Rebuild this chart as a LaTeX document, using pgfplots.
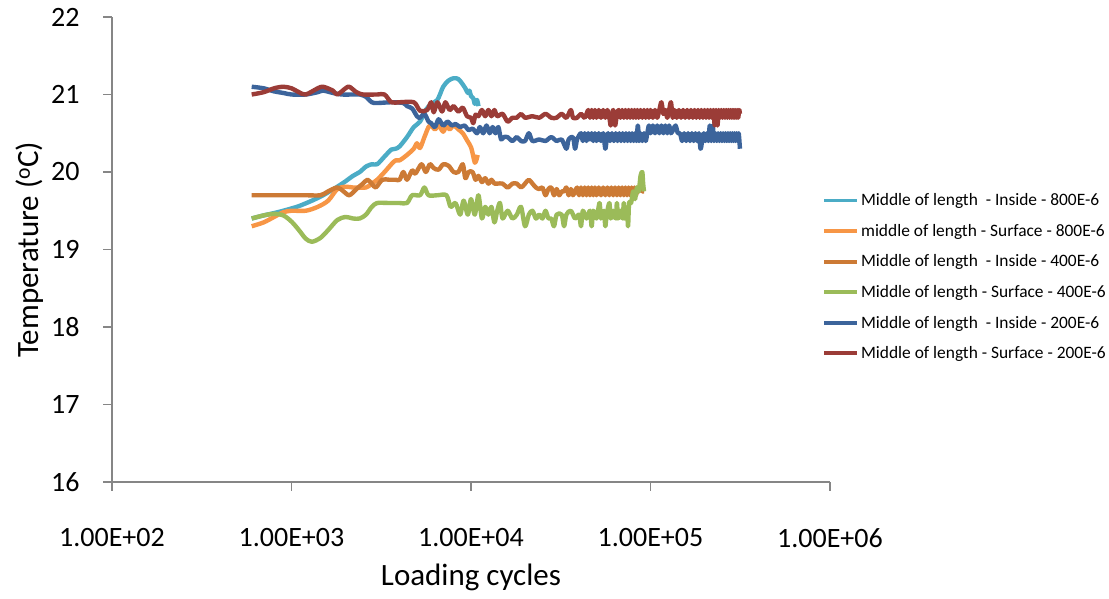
\documentclass[border=0pt]{standalone}
\usepackage{pgfplots}
\pgfplotsset{compat=1.18}
\usepackage{fontspec}
\setmainfont{Carlito}
\definecolor{axisgrey}{HTML}{868686}
\definecolor{cInA}{HTML}{4BACC6}
\definecolor{cSurA}{HTML}{F79646}
\definecolor{cInB}{HTML}{CC7A35}
\definecolor{cSurB}{HTML}{9BBB59}
\definecolor{cInC}{HTML}{3C649B}
\definecolor{cSurC}{HTML}{9B3C37}

\begin{document}
\begin{tikzpicture}
\begin{axis}[
  scale only axis,
  width=718pt, height=465pt,
  xmode=log, xmin=100, xmax=1000000,
  ymin=16, ymax=22,
  axis x line*=bottom, axis y line*=left,
  axis line style={draw=axisgrey, line width=1.3pt, -},
  xtick={100,1000,10000,100000,1000000},
  xticklabels={1.00E+02,1.00E+03,1.00E+04,1.00E+05,1.00E+06},
  xminorticks=false,
  ytick={16,17,18,19,20,21,22},
  tick align=outside,
  major tick length=9pt,
  tick style={draw=axisgrey, line width=1.3pt},
  ticklabel style={font=\fontsize{28}{32}\selectfont},
  xticklabel style={yshift=-34pt},
  yticklabel style={xshift=-20pt},
  /pgf/number format/assume math mode=true,
  xlabel={Loading cycles},
  ylabel={Temperature (\textsuperscript{o}C)},
  label style={font=\fontsize{31}{36}\selectfont},
  xlabel style={at={(axis description cs:0.5,-0.206)}, anchor=center},
  ylabel style={at={(axis description cs:-0.114,0.5)}, anchor=center},
  legend style={at={(axis description cs:0.989,0.441)}, anchor=west,
    draw=none, fill=none, inner sep=0pt,
    font=\fontsize{17.4}{21}\selectfont, row sep=17pt,
    nodes={inner xsep=2pt, inner ysep=0pt}},
  legend cell align=left,
  legend image code/.code={\draw[#1, line width=3.8pt] (0pt,0pt) -- (33pt,0pt);},
  every axis plot/.append style={line width=4.4pt, smooth, tension=0.5, line join=round},
]

% Middle of length - Inside - 800E-6
\addplot[color=cInA] coordinates {
(600,19.40) (700,19.44) (800,19.47) (900,19.50) (1000,19.53) (1100,19.56)
(1300,19.63) (1500,19.70) (1800,19.81) (2000,19.88) (2200,19.95) (2400,20.00)
(2600,20.07) (2800,20.10) (3000,20.10) (3300,20.20) (3600,20.29) (3800,20.30)
(4000,20.33) (4400,20.45) (4800,20.58) (5200,20.65) (5600,20.80) (6000,20.88)
(6500,20.93) (7000,21.10) (7500,21.18) (8000,21.21) (8500,21.20) (9000,21.13)
(9300,21.08) (9600,21.02) (9800,21.05) (10000,20.98) (10300,20.95) (10500,20.88)
(10800,20.93) (11000,20.85)
};
\addlegendentry{Middle of length\ \ - Inside - 800E-6}

% middle of length - Surface - 800E-6
\addplot[color=cSurA] coordinates {
(600,19.30) (700,19.35) (800,19.42) (900,19.48) (1000,19.50) (1200,19.50)
(1400,19.55) (1600,19.63) (1800,19.78) (2000,19.81) (2200,19.80) (2600,19.80)
(2800,19.85) (3000,19.90) (3300,20.00) (3600,20.10) (3800,20.15) (4000,20.15)
(4400,20.22) (4800,20.30) (5000,20.37) (5200,20.31) (5500,20.45) (5800,20.58)
(6000,20.60) (6300,20.55) (6600,20.60) (7000,20.52) (7300,20.60) (7600,20.55)
(8000,20.60) (8500,20.55) (9000,20.50) (9500,20.41) (10000,20.32) (10300,20.20)
(10500,20.12) (10700,20.15) (10900,20.22)
};
\addlegendentry{middle of length - Surface - 800E-6}

% Middle of length - Inside - 400E-6
\addplot[color=cInB] coordinates {
(600,19.70) (800,19.70) (1000,19.70) (1200,19.70) (1450,19.70) (1600,19.75)
(1800,19.80) (1950,19.75) (2100,19.70) (2300,19.78) (2500,19.85) (2650,19.90)
(2800,19.85) (2950,19.80) (3200,19.90) (3500,19.90) (3800,19.90) (4000,19.90)
(4200,20.00) (4400,19.90) (4700,20.02) (4900,19.98) (5300,20.10) (5600,20.00)
(5900,20.10) (6200,20.05) (6600,20.03) (7000,20.10) (7500,20.08) (8000,20.00)
(8500,20.00) (9000,20.10) (9300,19.92) (9700,20.00) (10200,20.00) (10600,19.90)
(11000,19.95) (11500,19.87) (12000,19.92) (12500,19.85) (13000,19.90) (13500,19.85)
(14000,19.85) (15000,19.85) (16000,19.80) (17000,19.85) (18000,19.85) (19000,19.80)
(20000,19.85) (21000,19.90) (22000,19.85) (23000,19.80) (24000,19.78) (25000,19.80)
(26000,19.70) (27000,19.78) (28000,19.80) (29000,19.70) (30000,19.78) (31000,19.70)
(32000,19.75) (33000,19.75) (34000,19.80) (35000,19.70) (36000,19.78) (37000,19.70)
(38000,19.75) (39000,19.80) (40000,19.70) (41000,19.80) (42000,19.70) (43000,19.80)
(44000,19.70) (45000,19.80) (46000,19.70) (47000,19.80) (48000,19.70) (49000,19.80)
(50000,19.70) (51500,19.80) (53000,19.70) (54500,19.80) (56000,19.70) (57500,19.80)
(59000,19.70) (60500,19.80) (62000,19.70) (63500,19.80) (65000,19.70) (66500,19.80)
(68000,19.70) (69500,19.80) (71000,19.70) (72500,19.80) (74000,19.70) (75500,19.80)
(77000,19.70) (78500,19.80) (80000,19.70) (81500,19.80) (83000,19.70) (84500,19.80)
(86000,19.75) (88000,19.80) (90000,19.75) (92000,19.75)
};
\addlegendentry{Middle of length\ \ - Inside - 400E-6}

% Middle of length - Surface - 400E-6
\addplot[color=cSurB] coordinates {
(600,19.40) (700,19.44) (800,19.46) (900,19.44) (1000,19.36) (1100,19.25)
(1200,19.14) (1300,19.10) (1450,19.15) (1600,19.25) (1800,19.38) (2000,19.42)
(2200,19.40) (2400,19.40) (2600,19.45) (2800,19.55) (3000,19.60) (3500,19.60)
(4000,19.60) (4400,19.60) (4700,19.70) (5200,19.70) (5500,19.80) (5800,19.70)
(6500,19.70) (7300,19.70) (7700,19.55) (8200,19.60) (8700,19.45) (9100,19.63)
(9600,19.45) (10000,19.65) (10500,19.45) (11000,19.70) (11500,19.40) (12000,19.55)
(12500,19.45) (13000,19.55) (13500,19.35) (14000,19.50) (14500,19.60) (15000,19.40)
(16000,19.50) (17000,19.40) (18000,19.45) (19000,19.55) (20000,19.30) (21000,19.45)
(22000,19.50) (23000,19.40) (24000,19.45) (25000,19.40) (26000,19.50) (27000,19.40)
(28000,19.40) (29000,19.30) (30000,19.45) (32000,19.45) (33000,19.30) (34000,19.45)
(36000,19.50) (38000,19.40) (40000,19.45) (41000,19.30) (42000,19.50) (44000,19.40)
(46000,19.50) (47000,19.30) (48000,19.50) (50000,19.40) (52000,19.60) (53000,19.40)
(55000,19.50) (56000,19.30) (57000,19.45) (59000,19.60) (60000,19.40) (62000,19.50)
(64000,19.40) (65000,19.60) (66000,19.40) (68000,19.50) (70000,19.40) (71000,19.60)
(72000,19.40) (74000,19.50) (75000,19.30) (76000,19.60) (78000,19.60) (80000,19.75)
(82000,19.65) (84000,19.80) (86000,19.75) (88000,19.95) (90000,20.00) (91000,19.85)
(92000,19.75)
};
\addlegendentry{Middle of length - Surface - 400E-6}

% Middle of length - Inside - 200E-6
\addplot[color=cInC] coordinates {
(600,21.10) (700,21.08) (800,21.04) (900,21.02) (1000,21.00) (1200,21.00)
(1400,21.03) (1500,21.05) (1700,21.02) (1900,21.00) (2200,21.00) (2400,21.00)
(2600,20.97) (2800,20.90) (3000,20.89) (3600,20.90) (4200,20.89) (4400,20.85)
(4700,20.82) (5000,20.72) (5200,20.70) (5500,20.75) (5800,20.65) (6000,20.63)
(6300,20.58) (6600,20.68) (7000,20.60) (7400,20.65) (7800,20.60) (8200,20.62)
(8700,20.58) (9200,20.60) (9700,20.54) (10200,20.56) (10800,20.50) (11200,20.58)
(11700,20.50) (12200,20.60) (12700,20.50) (13200,20.58) (13700,20.50) (14200,20.58)
(14700,20.42) (15200,20.45) (16000,20.45) (17000,20.40) (18000,20.45) (19000,20.40)
(20000,20.40) (21000,20.50) (22000,20.40) (24000,20.42) (26000,20.40) (28000,20.45)
(30000,20.40) (32000,20.42) (34000,20.30) (35000,20.42) (37000,20.45) (38000,20.30)
(39000,20.42) (41000,20.50) (42000,20.40) (43000,20.50) (44000,20.40) (45000,20.50)
(46000,20.42) (47000,20.50) (48000,20.40) (49000,20.50) (50000,20.40) (51500,20.50)
(53000,20.40) (54500,20.50) (56000,20.30) (57000,20.42) (58000,20.50) (59500,20.40)
(61000,20.50) (62500,20.40) (64000,20.50) (65500,20.40) (67000,20.50) (68500,20.40)
(70000,20.50) (71500,20.40) (73000,20.50) (74500,20.40) (76000,20.50) (77500,20.40)
(79000,20.50) (80500,20.40) (82000,20.50) (83500,20.40) (85000,20.60) (86500,20.40)
(88000,20.50) (90000,20.40) (92000,20.50) (94000,20.40) (96000,20.50) (98000,20.60)
(100000,20.50) (103000,20.60) (106000,20.50) (109000,20.60) (112000,20.50) (115000,20.60)
(118000,20.50) (121000,20.60) (124000,20.50) (127000,20.60) (130000,20.50) (134000,20.55)
(138000,20.60) (142000,20.50) (146000,20.50) (150000,20.40) (154000,20.50) (158000,20.40)
(162000,20.50) (166000,20.40) (170000,20.50) (174000,20.40) (178000,20.50) (182000,20.40)
(186000,20.50) (190000,20.30) (194000,20.40) (198000,20.50) (202000,20.40) (206000,20.50)
(210000,20.40) (214000,20.60) (218000,20.40) (222000,20.60) (226000,20.40) (230000,20.50)
(234000,20.40) (238000,20.50) (242000,20.40) (246000,20.50) (250000,20.40) (254000,20.50)
(258000,20.40) (262000,20.50) (266000,20.40) (270000,20.50) (274000,20.40) (278000,20.50)
(282000,20.40) (286000,20.50) (290000,20.40) (294000,20.50) (298000,20.40) (302000,20.50)
(306000,20.40) (310000,20.50) (315000,20.30)
};
\addlegendentry{Middle of length\ \ - Inside - 200E-6}

% Middle of length - Surface - 200E-6
\addplot[color=cSurC] coordinates {
(600,21.00) (700,21.03) (800,21.08) (900,21.10) (1000,21.08) (1100,21.03)
(1200,21.00) (1400,21.08) (1500,21.10) (1700,21.05) (1800,21.00) (2000,21.08)
(2100,21.10) (2300,21.03) (2500,21.00) (3000,21.00) (3300,21.00) (3600,20.90)
(4000,20.90) (4800,20.90) (5200,20.79) (5700,20.80) (6000,20.90) (6200,20.77)
(6500,20.90) (6900,20.78) (7200,20.90) (7600,20.80) (8000,20.85) (8500,20.78)
(9000,20.83) (9500,20.72) (10000,20.70) (10300,20.63) (10600,20.74) (11000,20.72)
(11500,20.80) (12000,20.72) (12500,20.80) (13000,20.72) (13500,20.80) (14000,20.72)
(15000,20.75) (16000,20.65) (17000,20.70) (18000,20.70) (19000,20.75) (20000,20.70)
(22000,20.72) (24000,20.70) (26000,20.75) (28000,20.70) (30000,20.70) (32000,20.75)
(34000,20.70) (36000,20.80) (37000,20.70) (39000,20.70) (41000,20.75) (43000,20.70)
(45000,20.80) (46000,20.70) (47000,20.80) (48000,20.70) (49000,20.80) (50000,20.70)
(51500,20.80) (53000,20.70) (54500,20.80) (56000,20.70) (57500,20.80) (59000,20.70)
(60000,20.60) (61000,20.70) (62000,20.80) (63500,20.60) (65000,20.75) (66500,20.80)
(68000,20.70) (69500,20.80) (71000,20.70) (72500,20.80) (74000,20.70) (75500,20.80)
(77000,20.70) (78500,20.80) (80000,20.70) (81500,20.80) (83000,20.70) (84500,20.80)
(86000,20.70) (88000,20.80) (90000,20.70) (92000,20.80) (94000,20.70) (96000,20.80)
(98000,20.70) (100000,20.80) (103000,20.70) (106000,20.80) (109000,20.70) (112000,20.80)
(115000,20.90) (118000,20.75) (121000,20.80) (124000,20.70) (127000,20.80) (130000,20.90)
(133000,20.70) (136000,20.80) (140000,20.70) (144000,20.80) (148000,20.70) (152000,20.80)
(156000,20.70) (160000,20.80) (164000,20.70) (168000,20.80) (172000,20.70) (176000,20.80)
(180000,20.70) (184000,20.80) (188000,20.70) (192000,20.80) (196000,20.70) (200000,20.80)
(204000,20.70) (208000,20.80) (212000,20.70) (216000,20.80) (220000,20.70) (224000,20.80)
(228000,20.60) (232000,20.80) (236000,20.60) (240000,20.80) (244000,20.70) (248000,20.80)
(252000,20.70) (256000,20.80) (260000,20.70) (264000,20.80) (268000,20.70) (272000,20.80)
(276000,20.70) (280000,20.80) (284000,20.70) (288000,20.80) (292000,20.70) (296000,20.80)
(300000,20.70) (304000,20.80) (308000,20.70) (312000,20.80) (315000,20.75)
};
\addlegendentry{Middle of length - Surface - 200E-6}

\end{axis}
\pgfresetboundingbox
\path ([shift={(-112pt,-117pt)}]current axis.south west) rectangle ++(1109pt,599pt);
\end{tikzpicture}
\end{document}
